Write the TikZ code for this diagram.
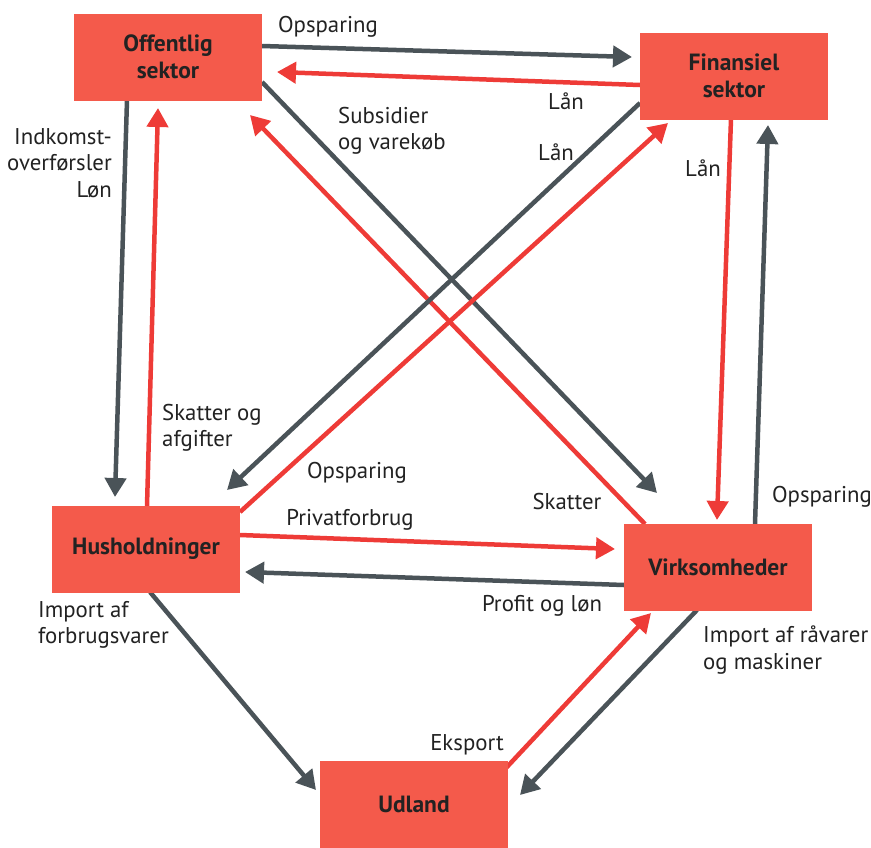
\documentclass[tikz,border=0pt]{standalone}
\usepackage{fontspec}
\setmainfont{PT Sans}
\usetikzlibrary{arrows.meta,calc,backgrounds}
\definecolor{boxred}{HTML}{F45A4B}
\definecolor{arrred}{HTML}{EE3B37}
\definecolor{arrgray}{HTML}{4A5358}
\definecolor{txt}{HTML}{222222}
\begin{document}
\begin{tikzpicture}[x=1pt,y=-1pt,
  sector/.style={fill=boxred,draw=none,minimum width=188pt,minimum height=87pt,inner sep=0pt,
    align=center,font=\fontsize{23.5}{27}\selectfont\bfseries,text=txt},
  flow/.style={line width=4.5pt,-{Triangle[length=19pt,width=21pt]}},
  redflow/.style={flow,draw=arrred,color=arrred},
  grayflow/.style={flow,draw=arrgray,color=arrgray},
  lbl/.style={font=\fontsize{22.8}{26.5}\selectfont,text=txt,inner sep=0pt}]
\useasboundingbox (0,0) rectangle (871,847);
\node[sector] (off) at (168,57) {Offentlig\\sektor};
\node[sector] (fin) at (734,76) {Finansiel\\sektor};
\node[sector] (hus) at (146,549) {Husholdninger};
\node[sector] (virk) at (718,567) {Virksomheder};
\node[sector] (udl) at (414,804) {Udland};
\begin{scope}[on background layer]
\draw[grayflow] ($(off.center)+(94,-11)$) -- ($(fin.center)+(-102,-19)$);
\draw[redflow] ($(fin.center)+(-94,9)$) -- ($(off.center)+(109,15)$);
\draw[grayflow] ($(off.center)+(94,25)$) -- ($(virk.center)+(-61,-74)$);
\draw[redflow] ($(virk.center)+(-73,-43)$) -- ($(off.center)+(82,58)$);
\draw[grayflow] ($(fin.center)+(-94,27)$) -- ($(hus.center)+(81,-59)$);
\draw[redflow] ($(hus.center)+(94,-37)$) -- ($(fin.center)+(-66,47)$);
\draw[grayflow] ($(off.center)+(-41,43)$) -- ($(hus.center)+(-31,-52)$);
\draw[redflow] ($(hus.center)+(1,-43)$) -- ($(off.center)+(-10,51)$);
\draw[redflow] ($(fin.center)+(-3,43)$) -- ($(virk.center)+(-1,-47)$);
\draw[grayflow] ($(virk.center)+(37,-43)$) -- ($(fin.center)+(34,49)$);
\draw[redflow] ($(hus.center)+(94,-14)$) -- ($(virk.center)+(-103,-18)$);
\draw[grayflow] ($(virk.center)+(-94,18)$) -- ($(hus.center)+(99,23)$);
\draw[grayflow] ($(hus.center)+(4,43)$) -- ($(udl.center)+(-98,-14)$);
\draw[redflow] ($(udl.center)+(92,-36)$) -- ($(virk.center)+(-67,46)$);
\draw[grayflow] ($(virk.center)+(-21,43)$) -- ($(udl.center)+(106,-9)$);
\end{scope}
\node[lbl] (l1) at (328,27) {Opsparing};
\node[lbl] (l2) at (566,101) {Lån};
\node[lbl,align=left,anchor=west] (l3) at (338,131) {Subsidier\\og varekøb};
\node[lbl] (l4) at (556,152) {Lån};
\node[lbl,align=right,anchor=east] (l5) at (112,163) {Indkomst-\\overførsler\\Løn};
\node[lbl] (l6) at (703,168) {Lån};
\node[lbl,align=left,anchor=west] (l7) at (162,428) {Skatter og\\afgifter};
\node[lbl] (l8) at (357,473) {Opsparing};
\node[lbl] (l9) at (350,520) {Privatforbrug};
\node[lbl] (l10) at (567,502) {Skatter};
\node[lbl] (l11) at (822,497) {Opsparing};
\node[lbl] (l12) at (542,606) {Profit og løn};
\node[lbl,align=left,anchor=west] (l13) at (38,625) {Import af\\forbrugsvarer};
\node[lbl,align=left,anchor=west] (l14) at (703,650) {Import af råvarer\\og maskiner};
\node[lbl] (l15) at (467,745) {Eksport};
\end{tikzpicture}
\end{document}
